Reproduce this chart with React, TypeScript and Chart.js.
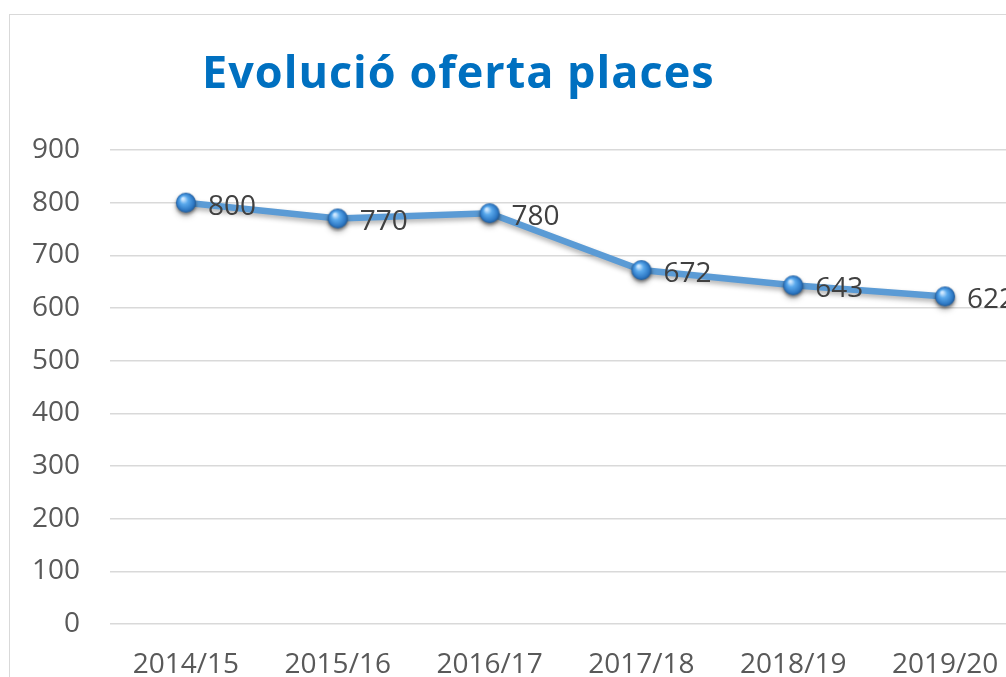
import React, { useEffect, useRef } from "react";
import { Chart, registerables } from "chart.js";

Chart.register(...registerables);

const categories = ["2014/15", "2015/16", "2016/17", "2017/18", "2018/19", "2019/20"];
const places = [800, 770, 780, 672, 643, 622];
const yMin = 0;
const yMax = 900;
const yStep = 100;
const titleText = "Evolució oferta places";

const FONT = "'Open Sans', 'Liberation Sans', sans-serif";

function makeSphere(): HTMLCanvasElement {
  const s = 28;
  const c = document.createElement("canvas");
  c.width = s;
  c.height = s;
  const g = c.getContext("2d")!;
  const cx = s / 2;
  const cy = s / 2;
  const r = 10;
  g.save();
  g.shadowColor = "rgba(0,0,0,0.35)";
  g.shadowBlur = 3;
  g.shadowOffsetY = 2;
  const grad = g.createRadialGradient(cx - 3, cy - 4, 1, cx, cy, r);
  grad.addColorStop(0, "#cfe8ff");
  grad.addColorStop(0.35, "#5aa9ec");
  grad.addColorStop(0.8, "#2f7ac6");
  grad.addColorStop(1, "#1f5a99");
  g.fillStyle = grad;
  g.beginPath();
  g.arc(cx, cy, r, 0, Math.PI * 2);
  g.fill();
  g.restore();
  return c;
}

const shadowPlugin = {
  id: "lineShadow",
  beforeDatasetDraw(chart: any) {
    const ctx = chart.ctx;
    ctx.save();
    ctx.shadowColor = "rgba(0,0,0,0.3)";
    ctx.shadowBlur = 5;
    ctx.shadowOffsetY = 3;
  },
  afterDatasetDraw(chart: any) {
    chart.ctx.restore();
  },
};

const labelPlugin = {
  id: "valueLabels",
  afterDatasetsDraw(chart: any) {
    const ctx = chart.ctx;
    const meta = chart.getDatasetMeta(0);
    const data = chart.data.datasets[0].data as number[];
    ctx.save();
    ctx.font = `28px ${FONT}`;
    ctx.fillStyle = "#404040";
    ctx.textAlign = "left";
    ctx.textBaseline = "alphabetic";
    meta.data.forEach((pt: any, i: number) => {
      ctx.fillText(String(data[i]), pt.x + 22, pt.y + 12);
    });
    ctx.restore();
  },
};

export default function App() {
  const ref = useRef<HTMLCanvasElement | null>(null);

  useEffect(() => {
    if (!ref.current) return;
    const sphere = makeSphere();
    const chart = new Chart(ref.current, {
      type: "line",
      data: {
        labels: categories,
        datasets: [
          {
            data: places,
            borderColor: "#5B9BD5",
            borderWidth: 6.5,
            pointStyle: sphere as any,
            pointRadius: 10,
            tension: 0,
            fill: false,
          },
        ],
      },
      options: {
        animation: false,
        responsive: false,
        layout: { padding: { top: 150, right: 19, left: 0, bottom: 0 } },
        plugins: {
          legend: { display: false },
          title: { display: false },
          tooltip: { enabled: false },
        },
        scales: {
          x: {
            offset: true,
            grid: { display: false, drawTicks: false },
            border: { display: false },
            ticks: {
              color: "#595959",
              font: { family: FONT, size: 28 },
              padding: 24,
              maxRotation: 0,
              autoSkip: false,
            },
            afterFit: (s: any) => {
              s.height = 96;
            },
          },
          y: {
            min: yMin,
            max: yMax,
            grid: { color: "#d9d9d9", lineWidth: 1.5, drawTicks: false },
            border: { display: false },
            ticks: {
              stepSize: yStep,
              color: "#595959",
              font: { family: FONT, size: 28 },
              padding: 30,
            },
            afterFit: (s: any) => {
              s.width = 110;
            },
          },
        },
      },
      plugins: [shadowPlugin, labelPlugin],
    });
    return () => chart.destroy();
  }, []);

  return (
    <div
      style={{
        position: "fixed",
        left: 0,
        top: 0,
        width: 1006,
        height: 677,
        overflow: "hidden",
        background: "#ffffff",
      }}
    >
      <div
        style={{
          position: "absolute",
          left: 9,
          top: 14,
          width: 1100,
          height: 800,
          border: "1.5px solid #d9d9d9",
          boxSizing: "border-box",
        }}
      />
      <canvas
        ref={ref}
        width={1040}
        height={720}
        style={{ position: "absolute", left: 0, top: 0 }}
      />
      <div
        style={{
          position: "absolute",
          left: 202,
          top: 48,
          fontFamily: FONT,
          fontWeight: 700,
          fontSize: 45,
          lineHeight: "45px",
          color: "#0070C0",
          whiteSpace: "nowrap",
          letterSpacing: 1,
        }}
      >
        {titleText}
      </div>
    </div>
  );
}
